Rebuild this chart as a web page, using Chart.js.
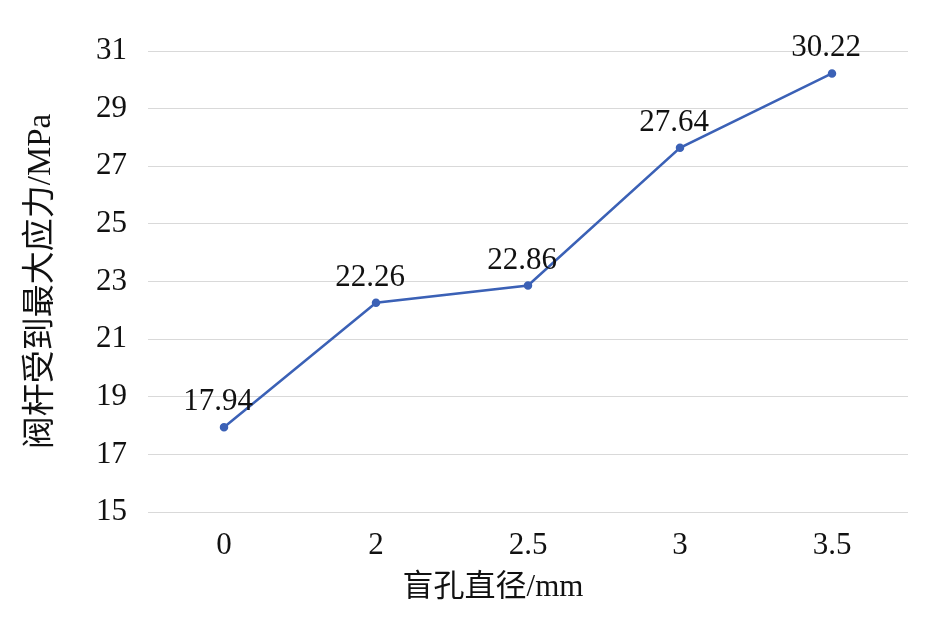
<!DOCTYPE html>
<html>
<head>
<meta charset="utf-8">
<script src="https://cdn.jsdelivr.net/npm/chart.js@4"></script>
<style>
  body { margin: 0; background: #fff; }
  #wrap { width: 945px; height: 623px; }
</style>
</head>
<body>
<div id="wrap"><canvas id="myChart" width="945" height="623"></canvas></div>
<script>
const categories = ["0", "2", "2.5", "3", "3.5"];
const stressValues = [17.94, 22.26, 22.86, 27.64, 30.22];
const yTicks = [15, 17, 19, 21, 23, 25, 27, 29, 31];
const xTitle = "盲孔直径/mm";

const fontFamily = "'Liberation Serif', 'Noto Sans CJK SC', serif";

// value labels above each point, plus the x title (sits a bit left of centre in the original)
const valueLabels = {
  id: "valueLabels",
  afterDatasetsDraw(chart) {
    const ctx = chart.ctx;
    const meta = chart.getDatasetMeta(0);
    ctx.save();
    ctx.font = "31px " + fontFamily;
    ctx.fillStyle = "#111";
    ctx.textAlign = "center";
    ctx.textBaseline = "alphabetic";
    meta.data.forEach((pt, i) => {
      ctx.fillText(stressValues[i].toFixed(2), pt.x - 6, pt.y - 17);
    });
    const area = chart.chartArea;
    ctx.textBaseline = "middle";
    ctx.fillText(xTitle, (area.left + area.right) / 2 - 35, 588);
    ctx.restore();
  },
};

const ctx = document.getElementById("myChart");
new Chart(ctx, {
  type: "line",
  data: {
    labels: categories,
    datasets: [
      {
        label: "应力",
        data: stressValues,
        borderColor: "#3b61b6",
        backgroundColor: "#3b61b6",
        borderWidth: 2.5,
        pointRadius: 3,
        tension: 0,
      },
    ],
  },
  options: {
    responsive: false,
    animation: false,
    layout: { padding: { top: 51, right: 37, left: 0, bottom: 0 } },
    plugins: {
      legend: { display: false },
      tooltip: { enabled: false },
    },
    scales: {
      x: {
        offset: true,
        afterFit(axis) { axis.height = 111; },
        grid: { display: false },
        border: { display: false },
        ticks: { color: "#111", font: { family: fontFamily, size: 31 }, padding: 7 },
      },
      y: {
        min: 15,
        max: 31,
        afterFit(axis) { axis.width = 148; },
        afterBuildTicks(axis) {
          axis.ticks = yTicks.map((v) => ({ value: v }));
        },
        grid: { color: "#d9d9d9", lineWidth: 1, drawTicks: false },
        border: { display: false },
        ticks: { color: "#111", font: { family: fontFamily, size: 31 }, padding: 21 },
        title: {
          display: true,
          text: "阀杆受到最大应力/MPa",
          color: "#111",
          font: { family: fontFamily, size: 33 },
          padding: { top: 22, bottom: 0 },
        },
      },
    },
  },
  plugins: [valueLabels],
});
</script>
</body>
</html>
